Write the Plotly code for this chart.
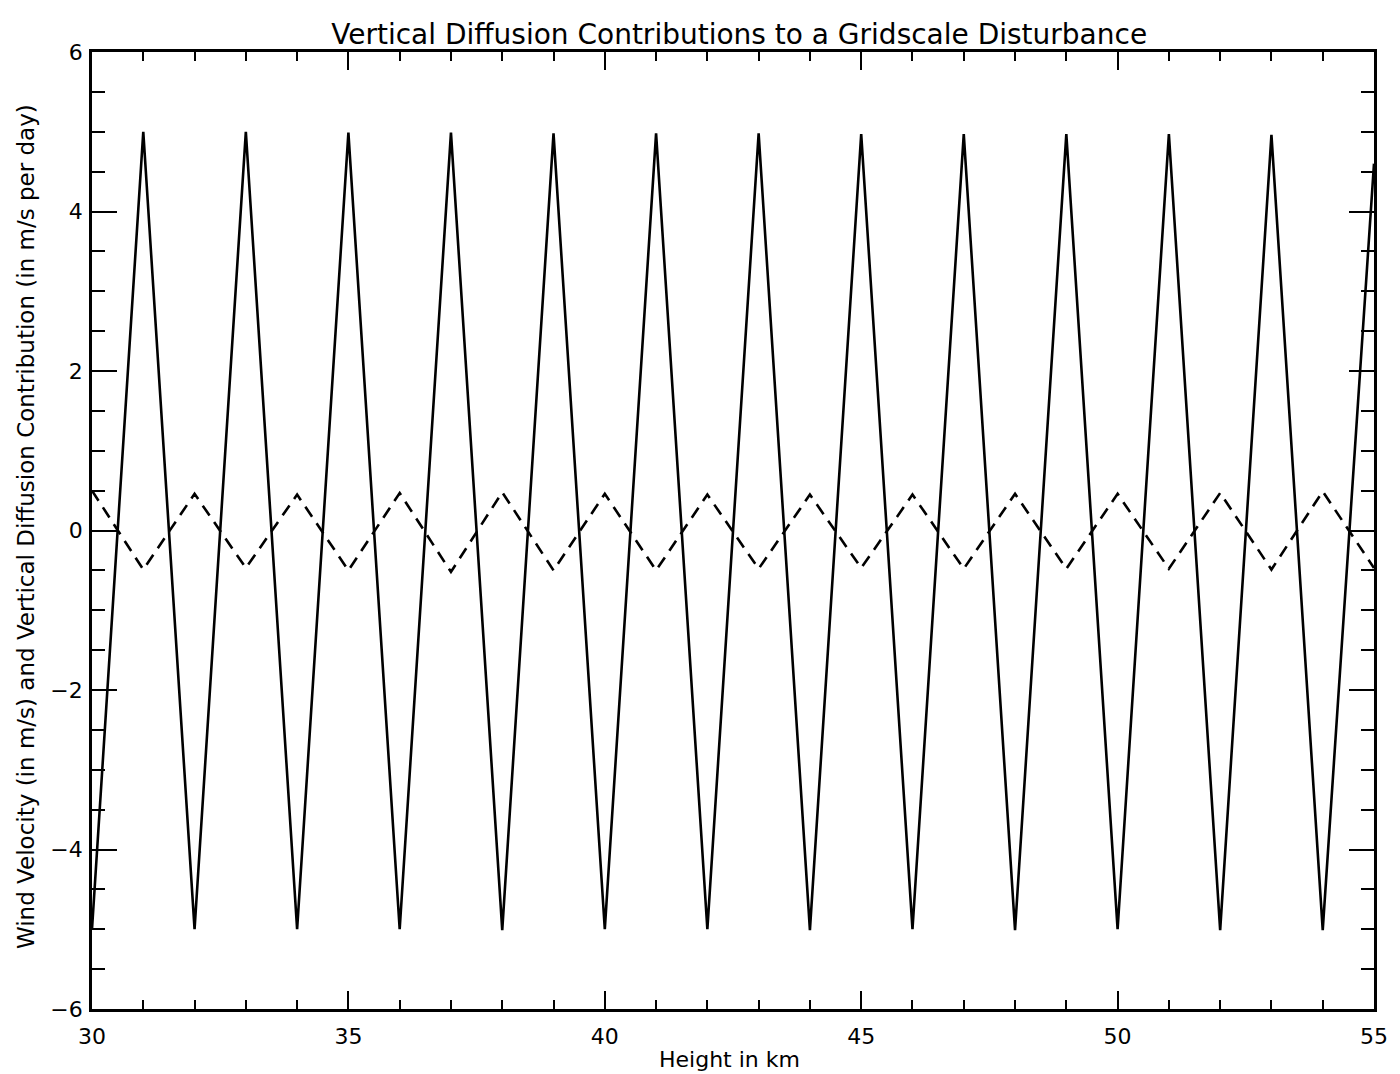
import plotly.graph_objects as go

# Height grid (km) and the two profiles drawn on it
height_km = list(range(30, 56))

wind_velocity = [
    -5.0, 5.0, -5.0, 5.0, -5.0, 4.99, -5.0, 4.99, -5.01, 4.98,
    -5.0, 4.98, -5.0, 4.98, -5.01, 4.97, -5.0, 4.97, -5.01, 4.97,
    -5.0, 4.97, -5.01, 4.96, -5.01, 4.6,
]

diffusion_contribution = [
    0.5, -0.49, 0.46, -0.47, 0.45, -0.5, 0.47, -0.52, 0.48, -0.5,
    0.46, -0.5, 0.45, -0.48, 0.45, -0.47, 0.45, -0.48, 0.46, -0.48,
    0.46, -0.48, 0.47, -0.49, 0.49, -0.47,
]

x_tick_vals = [30, 35, 40, 45, 50, 55]
y_tick_vals = [-6, -4, -2, 0, 2, 4, 6]
y_tick_text = ["\u22126", "\u22124", "\u22122", "0", "2", "4", "6"]

FONT = "DejaVu Sans"

fig = go.Figure()

fig.add_trace(go.Scatter(
    x=height_km, y=wind_velocity, mode="lines",
    line=dict(color="black", width=2.6),
    showlegend=False, hoverinfo="skip",
))

fig.add_trace(go.Scatter(
    x=height_km, y=diffusion_contribution, mode="lines",
    line=dict(color="black", width=2.6, dash="12px,8px"),
    showlegend=False, hoverinfo="skip",
))

fig.update_layout(
    width=1400, height=1074,
    margin=dict(l=92, r=14, t=52, b=65),
    paper_bgcolor="white", plot_bgcolor="white",
    font=dict(family=FONT, color="black"),
    title=dict(
        text="Vertical Diffusion Contributions to a Gridscale Disturbance",
        x=0.528, xanchor="center", y=0.968, yanchor="middle",
        font=dict(size=28, family=FONT, color="black"),
    ),
)

# Axis titles placed as annotations for exact positioning
fig.add_annotation(
    text="Height in km", xref="paper", yref="paper",
    x=0.497, y=-0.053, xanchor="center", yanchor="middle",
    showarrow=False, font=dict(size=22, family=FONT, color="black"),
)
fig.add_annotation(
    text="Wind Velocity (in m/s) and Vertical Diffusion Contribution (in m/s per day)",
    xref="paper", yref="paper", x=-0.052, y=0.504,
    xanchor="center", yanchor="middle", textangle=-90,
    showarrow=False, font=dict(size=23, family=FONT, color="black"),
)

fig.update_xaxes(
    range=[30, 55],
    tickvals=x_tick_vals, ticktext=[str(v) for v in x_tick_vals],
    ticks="inside", ticklen=18, tickwidth=2.2, tickcolor="black",
    minor=dict(ticks="inside", ticklen=9, tickwidth=2.2, tickcolor="black", dtick=1, tick0=30),
    showline=True, linewidth=2.8, linecolor="black", mirror="ticks",
    showgrid=False, zeroline=False,
    tickfont=dict(size=22, family=FONT), ticklabelstandoff=6,
)

fig.update_yaxes(
    range=[-6, 6],
    tickvals=y_tick_vals, ticktext=y_tick_text,
    ticks="inside", ticklen=25, tickwidth=2.2, tickcolor="black",
    minor=dict(ticks="inside", ticklen=13, tickwidth=2.2, tickcolor="black", dtick=0.5, tick0=0),
    showline=True, linewidth=2.8, linecolor="black", mirror="ticks",
    showgrid=False, zeroline=False,
    tickfont=dict(size=22, family=FONT), ticklabelstandoff=2,
)

fig.write_html("out.html")
